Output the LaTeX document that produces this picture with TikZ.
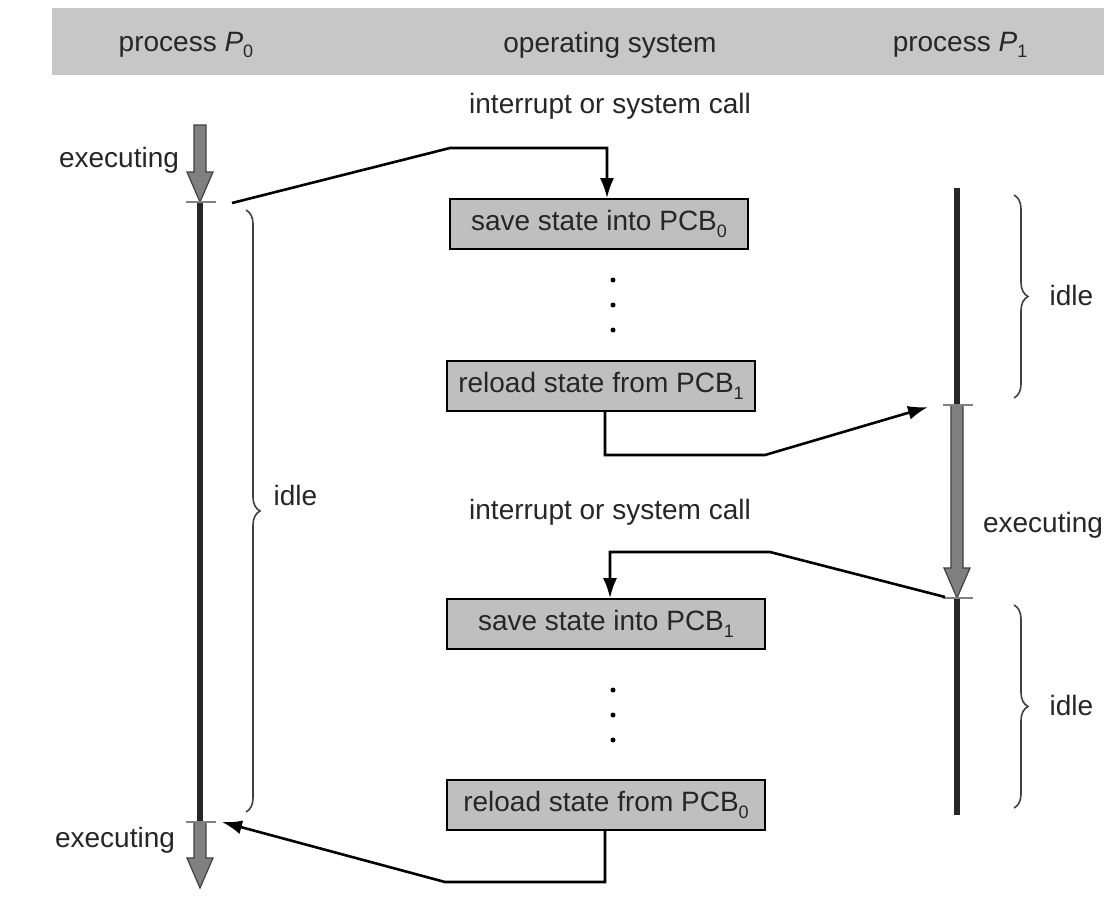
\documentclass[tikz,border=0pt]{standalone}
\usepackage{fontspec}
\setmainfont{Liberation Sans}
\usetikzlibrary{arrows.meta,decorations.pathreplacing}

% lowered index for process / PCB numbers
\newcommand\lowidx[1]{\raisebox{-0.45ex}{\fontsize{18}{18}\selectfont #1}}
% thick shaded down-arrow: x, top y, tip y
\newcommand\fatdown[3]{%
  \filldraw[fatfill] (#1-6,#2) -- (#1+6,#2) -- (#1+6,#3-30) -- (#1+13,#3-30)
    -- (#1,#3) -- (#1-13,#3-30) -- (#1-6,#3-30) -- cycle;}

\begin{document}
\begin{tikzpicture}[x=1pt,y=-1pt,
  every node/.style={font=\fontsize{28}{33}\selectfont,text=black!85},
  header/.style={fill=black!22,draw=none},
  osbox/.style={draw=black,line width=1.6pt,fill=black!25,minimum height=50pt,inner sep=0pt},
  conn/.style={line width=2.6pt,-{Latex[length=20pt,width=14pt]}},
  timeline/.style={line width=6pt,black!85},
  tick/.style={line width=2pt,black!50},
  fatfill/.style={fill=black!50,draw=black!75,line width=1.2pt},
  idlebrace/.style={decorate,decoration={brace,amplitude=14pt},line width=1.6pt,black!75},
  dot/.style={circle,fill=black,inner sep=0pt,minimum size=5pt}]

\useasboundingbox (0,0) rectangle (1104,899);
\fill[white] (0,0) rectangle (1104,899);

% column headings
\fill[header] (52,8) rectangle (1104,75);
\node (hP0) at (186,45) {process \textit{P}\lowidx{0}};
\node (hOS) at (610,45) {operating system};
\node (hP1) at (960,45) {process \textit{P}\lowidx{1}};

% process P0 time line
\coordinate (p0a) at (200,202);
\coordinate (p0b) at (200,822);
\fatdown{200}{125}{202}
\draw[timeline] (p0a) -- (p0b);
\fatdown{200}{822}{888}
\draw[tick] (186,202) -- (216,202);
\draw[tick] (186,822) -- (216,822);
\node (ex0a) at (119,160) {executing};
\node (ex0b) at (115,840) {executing};
\draw[idlebrace] (246,210) -- (246,812);
\node[anchor=west] (idle0) at (270,495) {idle};

% process P1 time line
\coordinate (p1top) at (957,188);
\coordinate (p1a) at (957,405);
\coordinate (p1b) at (957,598);
\coordinate (p1bot) at (957,815);
\draw[timeline] (p1top) -- (p1a);
\fatdown{957}{405}{598}
\draw[timeline] (p1b) -- (p1bot);
\draw[tick] (943,405) -- (973,405);
\draw[tick] (943,598) -- (973,598);
\node (ex1) at (1043,525) {executing};
\draw[idlebrace] (1014,195) -- (1014,398);
\node[anchor=west] (idle1a) at (1046,295) {idle};
\draw[idlebrace] (1014,605) -- (1014,808);
\node[anchor=west] (idle1b) at (1046,705) {idle};

% operating system column
\node (int1) at (610,106) {interrupt or system call};
\node[osbox,minimum width=298pt] (save0) at (599,224) {save state into PCB\lowidx{0}};
\node[dot] (d1) at (613,280) {};
\node[dot] (d2) at (613,305) {};
\node[dot] (d3) at (613,330) {};
\node[osbox,minimum width=308pt] (load1) at (601,386) {reload state from PCB\lowidx{1}};

\node (int2) at (610,512) {interrupt or system call};
\node[osbox,minimum width=318pt] (save1) at (606,624) {save state into PCB\lowidx{1}};
\node[dot] (d4) at (613,690) {};
\node[dot] (d5) at (613,715) {};
\node[dot] (d6) at (613,740) {};
\node[osbox,minimum width=318pt] (load0) at (606,805) {reload state from PCB\lowidx{0}};

% control transfers
\coordinate (s1) at (232,203);
\coordinate (e2) at (928,407);
\coordinate (s3) at (945,597);
\coordinate (e4) at (222,822);
\draw[conn] (s1) -- (450,148) -- (607,148) -- (save0.north -| 607,0);
\draw[conn] (load1.south -| 605,0) -- (605,455) -- (765,455) -- (e2);
\draw[conn] (s3) -- (770,552) -- (610,552) -- (save1.north -| 610,0);
\draw[conn] (load0.south -| 605,0) -- (605,882) -- (445,882) -- (e4);
\end{tikzpicture}
\end{document}
